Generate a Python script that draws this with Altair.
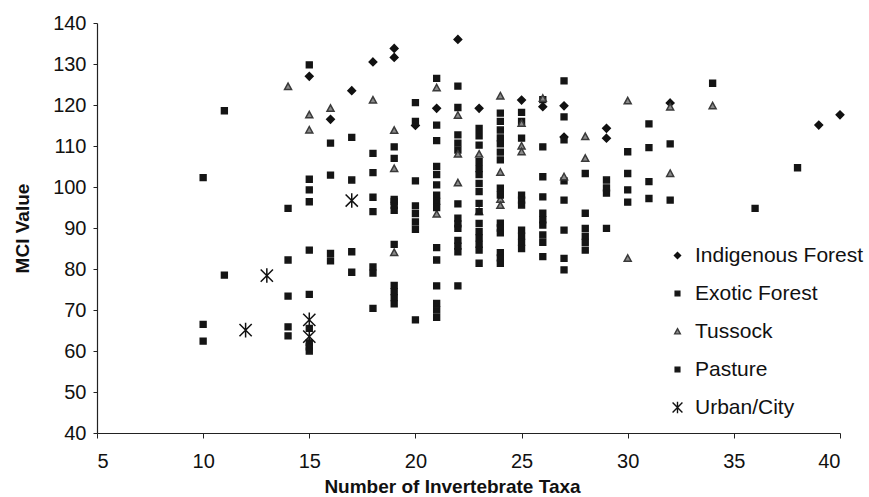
import altair as alt
import pandas as pd

# ---- data ----
indig_x = [15, 16, 17, 18, 19, 19, 20, 21, 22, 23, 25, 26, 27, 27, 29, 29, 32, 39, 40]
indig_y = [127, 116.5, 123.5, 130.5, 133.8, 131.6, 115, 119.2, 136, 119.2, 121.2, 119.6, 119.8, 112.2, 114.3, 111.9, 120.5, 115.1, 117.6]

exotic_x = [10, 11, 15, 15, 15, 15, 16, 16, 17, 17, 18, 18, 19, 19, 20, 20, 20, 21, 21, 21, 21, 21, 21,
            22, 22, 22, 22, 22, 23, 23, 23, 23, 23, 23, 23, 24, 24, 24, 24, 24, 24, 24, 25, 25, 25,
            26, 26, 26, 27, 27, 27, 27, 28, 29, 29, 30, 30, 31, 31, 31, 32, 34, 38]
exotic_y = [102.3, 118.6, 129.8, 101.9, 99.3, 96.4, 110.7, 102.9, 112.1, 101.7, 108.2, 103.5, 109.8, 107,
            120.6, 116, 101.5, 126.5, 115.1, 111.3, 105, 103, 100.5,
            124.6, 119.4, 112.7, 110.7, 109, 114.3, 112.5, 110.2, 106.2, 104.5, 103, 100.9,
            118, 116, 113.9, 112, 110.5, 108.5, 106.6, 118.2, 116, 111.9,
            121.3, 109.8, 102.5, 125.9, 117.1, 111.5, 101.5, 103.3, 101.7, 99.8, 108.6, 103.3,
            115.4, 109.6, 101.3, 110.5, 125.3, 104.7]

tussock_x = [14, 15, 15, 16, 18, 19, 19, 19, 21, 21, 22, 22, 22, 23, 23, 24, 24, 24, 24, 25, 25, 25,
             26, 27, 28, 28, 30, 30, 32, 32, 34]
tussock_y = [124.5, 117.6, 113.9, 119.2, 121.2, 113.8, 104.5, 84, 124.2, 93.4, 117.5, 101, 108, 108, 94,
             122.2, 103.6, 97, 95.5, 115.5, 110, 108.6, 121.6, 102.5, 112.3, 107, 121, 82.6, 119.5, 103.3, 119.8]

pasture_x = [10, 10, 11, 14, 14, 14, 14, 14, 15, 15, 15, 15, 15, 15, 16, 16, 17, 17, 18, 18, 18, 18, 18,
             19, 19, 19, 19, 19, 19, 19, 19, 19, 20, 20, 20, 20, 20,
             21, 21, 21, 21, 21, 21, 21, 21, 21, 22, 22, 22, 22, 22, 22, 22, 22,
             23, 23, 23, 23, 23, 23, 23, 23, 23, 24, 24, 24, 24, 24, 24, 24, 24,
             25, 25, 25, 25, 25, 25, 25, 26, 26, 26, 26, 26, 26, 26,
             27, 27, 27, 27, 28, 28, 28, 28, 28, 29, 29, 30, 30, 31, 32, 36]
pasture_y = [66.5, 62.4, 78.5, 94.8, 82.2, 73.4, 65.9, 63.7, 84.6, 73.8, 65.5, 62, 61, 60, 83.8, 82,
             84.2, 79.2, 97.5, 94, 80.5, 79, 70.4,
             97, 95.5, 94.3, 86, 76, 74.5, 73, 71.5, 96.5, 95.4, 93.5, 91.5, 89.7, 67.6,
             98, 96.5, 95, 85.2, 82.2, 75.9, 71.6, 70, 68.2, 95.9, 92.4, 91, 89.9, 87, 85.6, 84.2, 75.9,
             98.9, 96, 94, 91.1, 89.1, 87.6, 86, 84.6, 81.4, 99.7, 98, 91.2, 90, 88.8, 84, 82.7, 81.4,
             98, 96.8, 95.6, 89.5, 88, 86.5, 85, 97.6, 93.6, 92, 90.7, 88.3, 86.5, 83,
             96.8, 89.5, 82.6, 79.8, 93.6, 89.9, 88, 86.5, 84.6, 98.5, 89.9, 99.3, 96.3, 97.2, 96.8, 94.8]

urban_x = [12, 13, 15, 15, 17]
urban_y = [65.1, 78.4, 67.6, 63.5, 96.7]

categories = ["Indigenous Forest", "Exotic Forest", "Tussock", "Pasture", "Urban/City"]
x_ticks = [5, 10, 15, 20, 25, 30, 35, 40]
y_ticks = [40, 50, 60, 70, 80, 90, 100, 110, 120, 130, 140]

rows = []
for cat, xs, ys in zip(categories,
                       [indig_x, exotic_x, tussock_x, pasture_x, urban_x],
                       [indig_y, exotic_y, tussock_y, pasture_y, urban_y]):
    for a, b in zip(xs, ys):
        rows.append({"taxa": a, "mci": b, "site": cat})
df = pd.DataFrame(rows)

shapes = [
    "M0,-1.3L1.3,0L0,1.3L-1.3,0Z",
    "M-1,-1H1V1H-1Z",
    "M0,-1.2L1.2,1L-1.2,1Z",
    "M-1,-1H1V1H-1Z",
    "M-2.1,-2.1L2.1,2.1M2.1,-2.1L-2.1,2.1M0,-2.5L0,2.5",
]
fills = ["#111111", "#151515", "#8a8a8a", "#151515", "#111111"]
strokes = ["#111111", "#151515", "#3a3a3a", "#151515", "#111111"]

FONT = "Liberation Sans"
leg = alt.Legend(
    orient="none", legendX=570, legendY=222, title=None,
    labelFont=FONT, labelFontSize=21, labelColor="#111111", labelLimit=400,
    symbolSize=22, symbolStrokeWidth=1.4, rowPadding=16, labelOffset=7,
    padding=0,
)

chart = alt.Chart(df).mark_point(filled=True, opacity=1, size=34, strokeWidth=1.5).encode(
    x=alt.X("taxa:Q", title="Number of Invertebrate Taxa",
            scale=alt.Scale(domain=[5, 40], nice=False, zero=False),
            axis=alt.Axis(values=x_ticks, format="d", titleX=355, titleAlign="center")),
    y=alt.Y("mci:Q", title="MCI Value",
            scale=alt.Scale(domain=[40, 140], nice=False, zero=False),
            axis=alt.Axis(values=y_ticks, format="d")),
    shape=alt.Shape("site:N", scale=alt.Scale(domain=categories, range=shapes), legend=leg),
    fill=alt.Fill("site:N", scale=alt.Scale(domain=categories, range=fills), legend=leg),
    stroke=alt.Stroke("site:N", scale=alt.Scale(domain=categories, range=strokes), legend=leg),
).properties(
    width=743, height=410,
    autosize=alt.AutoSizeParams(type="none"),
    padding={"left": 97, "top": 23, "right": 29, "bottom": 64},
).configure_view(stroke=None).configure_axis(
    grid=False, domainColor="#222222", tickColor="#222222", labelColor="#111111",
    titleColor="#111111", labelFont=FONT, titleFont=FONT, labelFontSize=20,
    titleFontSize=19, titleFontWeight="bold", domainWidth=1.2, tickWidth=1,
).configure_axisX(tickSize=5, labelPadding=13, titlePadding=6).configure_axisY(
    tickSize=4, labelPadding=7, titlePadding=20)

chart.save("out.html", embed_options={"renderer": "svg", "actions": False})
